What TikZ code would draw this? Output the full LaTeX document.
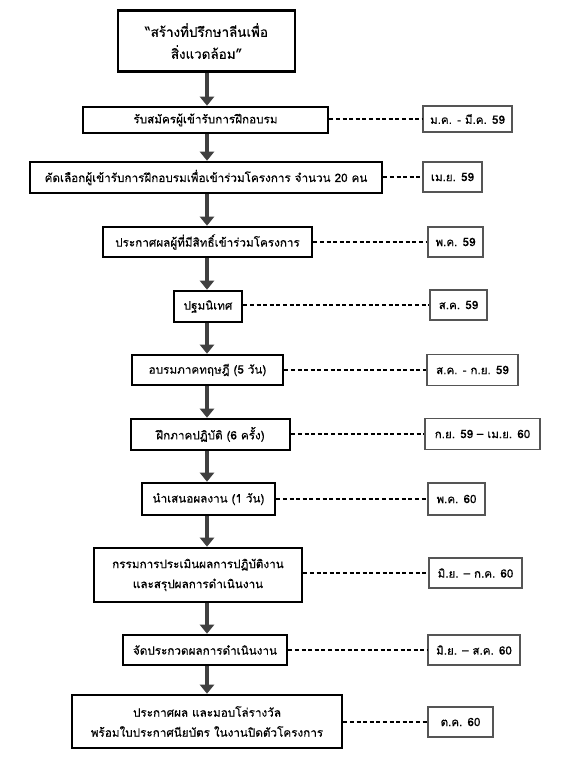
\documentclass[tikz,border=0pt]{standalone}
\usepackage{fontspec}
\newfontfamily\thaifont[Script=Thai,FakeBold=0.3]{Loma}
\usetikzlibrary{arrows.meta}
\definecolor{arrowgray}{HTML}{404040}
\definecolor{dategray}{HTML}{555555}
\tikzset{
  mainbox/.style={draw=black, line width=2.6pt, fill=white, inner sep=0pt, align=center, font=\thaifont\fontsize{11.7}{20}\selectfont},
  datebox/.style={draw=dategray, line width=1.2pt, fill=white, inner sep=0pt, align=center, font=\thaifont\fontsize{11.6}{14}\selectfont},
  flowarrow/.style={draw=arrowgray, line width=3.6pt, -{Triangle[width=14pt,length=9pt]}},
  dashlink/.style={draw=black, line width=1.4pt, dash pattern=on 4pt off 2.6pt},
}
\newcommand{\mb}[6]{\node[mainbox, minimum width=#4pt, minimum height=#5pt] (#1) at (#2,#3) {#6};}
\newcommand{\db}[6]{\node[datebox, minimum width=#4pt, minimum height=#5pt] (#1) at (#2,#3) {#6};}
\begin{document}
\begin{tikzpicture}[x=1pt,y=-1pt]
\useasboundingbox (0,0) rectangle (575,762);
\node[mainbox, minimum width=177pt, minimum height=61pt, font=\thaifont\fontsize{13.4}{22}\selectfont] (title) at (206.5,41) {“สร้างที่ปรึกษาลีนเพื่อ\\สิ่งแวดล้อม”};
\mb{b1}{205.5}{120}{245}{26}{รับสมัครผู้เข้ารับการฝึกอบรม}
\mb{b2}{206}{177.5}{352}{31}{คัดเลือกผู้เข้ารับการฝึกอบรมเพื่อเข้าร่วมโครงการ จำนวน 20 คน}
\mb{b3}{207.5}{242}{209}{30}{ประกาศผลผู้ที่มีสิทธิ์เข้าร่วมโครงการ}
\mb{b4}{208}{306.5}{68}{31}{ปฐมนิเทศ}
\mb{b5}{207.5}{370}{151}{30}{อบรมภาคทฤษฎี (5 วัน)}
\mb{b6}{210.5}{434.5}{159}{31}{ฝึกภาคปฏิบัติ (6 ครั้ง)}
\mb{b7}{208.5}{499}{133}{32}{นำเสนอผลงาน (1 วัน)}
\mb{b8}{198}{575}{208}{54}{กรรมการประเมินผลการปฏิบัติงาน\\และสรุปผลการดำเนินงาน}
\mb{b9}{205}{650}{164}{30}{จัดประกวดผลการดำเนินงาน}
\mb{b10}{207}{721.5}{270}{53}{ประกาศผล และมอบโล่รางวัล\\พร้อมใบประกาศนียบัตร ในงานปิดตัวโครงการ}
\db{d1}{467.5}{119}{89}{26}{ม.ค. - มี.ค. 59}
\db{d2}{452.5}{177}{59}{30}{เม.ย. 59}
\db{d3}{455.5}{242}{55}{30}{พ.ค. 59}
\db{d4}{458.5}{305}{57}{30}{ส.ค. 59}
\db{d5}{472.5}{370}{91}{31}{ส.ค. - ก.ย. 59}
\db{d6}{482.5}{434}{115}{31}{ก.ย. 59 – เม.ย. 60}
\db{d7}{456.5}{499}{57}{32}{พ.ค. 60}
\db{d8}{475.5}{573}{93}{30}{มิ.ย. – ก.ค. 60}
\db{d9}{474}{650}{92}{30}{มิ.ย. – ส.ค. 60}
\db{d10}{460.5}{722}{65}{30}{ต.ค. 60}
% arrows
\coordinate (axis) at (207,0);
\foreach \a/\b in {title/b1,b1/b2,b2/b3,b3/b4,b4/b5,b5/b6,b6/b7,b7/b8,b8/b9,b9/b10}{
  \draw[flowarrow] (\a.south -| axis) -- (\b.north -| axis);
}
% dashed links
\foreach \i in {1,...,10}{
  \draw[dashlink] (b\i.east |- d\i.west) -- (d\i.west);
}
\end{tikzpicture}
\end{document}
